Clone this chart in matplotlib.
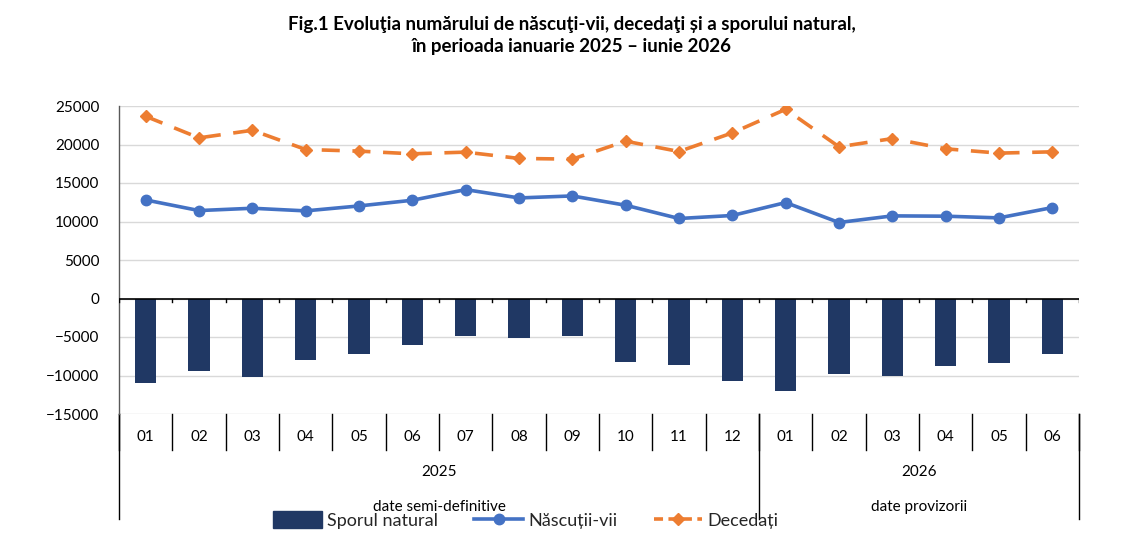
import matplotlib
matplotlib.use("Agg")
import matplotlib.pyplot as plt
import matplotlib.transforms as mtransforms
from matplotlib.patches import Patch
from matplotlib.lines import Line2D

plt.rcParams['font.family'] = ['Lato', 'Open Sans', 'DejaVu Sans']

months = ["01", "02", "03", "04", "05", "06", "07", "08", "09", "10", "11", "12",
          "01", "02", "03", "04", "05", "06"]
years = ["2025", "2026"]
year_months = [12, 6]
data_status = ["date semi-definitive", "date provizorii"]

nascuti = [12800, 11420, 11720, 11380, 12020, 12760, 14140, 13060, 13320, 12110,
           10390, 10780, 12460, 9870, 10730, 10690, 10470, 11810]
decedati = [23660, 20860, 21850, 19350, 19140, 18790, 19010, 18190, 18100, 20430,
            19090, 21510, 24570, 19700, 20770, 19440, 18880, 19050]
spor = [-10950, -9400, -10130, -7930, -7150, -6030, -4870, -5090, -4870, -8280,
        -8620, -10730, -12070, -9830, -10090, -8750, -8400, -7240]

c_bar = "#203864"
c_blue = "#4472C4"
c_orange = "#ED7D31"
c_text = "#262626"

fig = plt.figure(figsize=(11.43, 5.46), dpi=100)
ax = fig.add_axes([119/1143, 1 - 414/546, (1079-119)/1143, (414-106)/546])

x = list(range(len(months)))
ax.bar(x, spor, width=0.4, color=c_bar, zorder=3)
ax.plot(x, nascuti, color=c_blue, lw=2.6, marker="o", ms=7.5, zorder=4)
ax.plot(x, decedati, color=c_orange, lw=2.6, ls=(0, (5, 3.5)), marker="D", ms=6, zorder=4)

ax.set_xlim(-0.5, len(months) - 0.5)
ax.set_ylim(-15000, 25000)
ax.set_yticks(range(-15000, 25001, 5000))
ax.tick_params(axis="y", length=0, labelsize=11, labelcolor="black", pad=14)
ax.set_xticks([])
ax.grid(axis="y", color="#D9D9D9", lw=1, zorder=0)
for s in ["top", "right", "bottom"]:
    ax.spines[s].set_visible(False)
ax.spines["left"].set_color("#595959")
ax.spines["left"].set_linewidth(1)

# horizontal axis at zero with small ticks
ax.axhline(0, color="black", lw=1.2, zorder=5)
for b in range(len(months) + 1):
    ax.plot([b - 0.5, b - 0.5], [0, -500], color="black", lw=1, zorder=5)

# multi-level category axis below the plot
tr = mtransforms.blended_transform_factory(ax.transData, fig.transFigure)
y_top = 1 - 414/546
y_month_bot = 1 - 450/546
y_bottom = 1 - 519/546
for b in range(len(months) + 1):
    ax.plot([b - 0.5, b - 0.5], [y_top, y_month_bot], color="black", lw=1,
            transform=tr, clip_on=False)
edges = [0]
for n in year_months:
    edges.append(edges[-1] + n)
for e in edges:
    ax.plot([e - 0.5, e - 0.5], [y_top, y_bottom], color="black", lw=1,
            transform=tr, clip_on=False)
for i, m in enumerate(months):
    ax.text(i, 1 - 437/546, m, transform=tr, ha="center", va="center",
            fontsize=11, color="black")
for k in range(len(years)):
    mid = (edges[k] + edges[k + 1] - 1) / 2
    ax.text(mid, 1 - 472/546, years[k], transform=tr, ha="center", va="center",
            fontsize=11, color="black")
    ax.text(mid, 1 - 507/546, data_status[k], transform=tr, ha="center", va="center",
            fontsize=11, color="black")

fig.suptitle("Fig.1 Evoluţia numărului de născuţi-vii, decedaţi și a sporului natural,\n"
             "în perioada ianuarie 2025 – iunie 2026",
             x=0.5, y=1 - 16/546, va="top", fontsize=13.5, fontweight="bold",
             linespacing=1.35)

handles = [Patch(facecolor=c_bar, edgecolor=c_bar),
           Line2D([], [], color=c_blue, lw=2.6, marker="o", ms=7.5),
           Line2D([], [], color=c_orange, lw=2.6, ls=(0, (2.5, 1.5)), marker="D", ms=6)]
labels = ["Sporul natural", "Născuții-vii", "Decedați"]
leg = fig.legend(handles, labels, loc="center", bbox_to_anchor=(0.46, 1 - 520/546),
                 ncol=3, frameon=False, fontsize=13, handlelength=2.7,
                 handletextpad=0.3, columnspacing=2.0, handleheight=1.0)
for t in leg.get_texts():
    t.set_color(c_text)

fig.savefig("out.png", dpi=100)
